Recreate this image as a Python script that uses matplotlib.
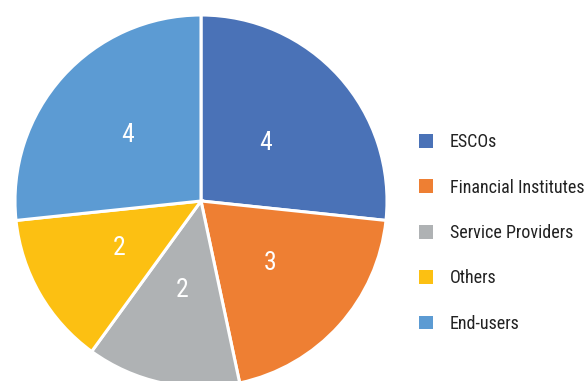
import matplotlib
matplotlib.use("Agg")
import matplotlib.pyplot as plt
from matplotlib.patches import Patch
from matplotlib import font_manager

categories = ["ESCOs", "Financial Institutes", "Service Providers", "Others", "End-users"]
values = [4, 3, 2, 2, 4]
colors = ["#4A72B7", "#EE7F33", "#AFB2B4", "#FCC012", "#5C9BD3"]

available = {f.name for f in font_manager.fontManager.ttflist}
family = [f for f in ["Liberation Sans Narrow", "Roboto Condensed", "Roboto", "DejaVu Sans"] if f in available]
plt.rcParams["font.family"] = family

W, H = 587, 381
fig = plt.figure(figsize=(W / 100, H / 100), dpi=100)

# pie centred at (201, 201) px from the top-left, radius 186 px
cx, cy, r = 201, 201, 186
ax = fig.add_axes([(cx - r) / W, (H - cy - r) / H, 2 * r / W, 2 * r / H])

wedges, texts = ax.pie(
    values,
    colors=colors,
    startangle=90,
    counterclock=False,
    labels=[str(v) for v in values],
    labeldistance=1.0,
    wedgeprops=dict(edgecolor="white", linewidth=2.2),
    textprops=dict(color="white", fontsize=18.5),
)
# radial placement of the value labels inside each wedge
label_radius = [0.47, 0.5, 0.49, 0.51, 0.53]
for t, d in zip(texts, label_radius):
    x, y = t.get_position()
    t.set_position((x * d, y * d))
    t.set_horizontalalignment("center")
    t.set_verticalalignment("center")
ax.set_xlim(-1, 1)
ax.set_ylim(-1, 1)
ax.set_aspect("equal")
ax.axis("off")

handles = [Patch(facecolor=c, edgecolor="none") for c in colors]
leg = fig.legend(
    handles,
    categories,
    loc="center left",
    bbox_to_anchor=(403 / W, 1 - 233 / H),
    frameon=False,
    fontsize=13.0,
    handlelength=0.78,
    handleheight=0.78,
    handletextpad=0.92,
    labelspacing=1.52,
)
for t in leg.get_texts():
    t.set_color("#222222")

fig.savefig("out.png", dpi=100)
